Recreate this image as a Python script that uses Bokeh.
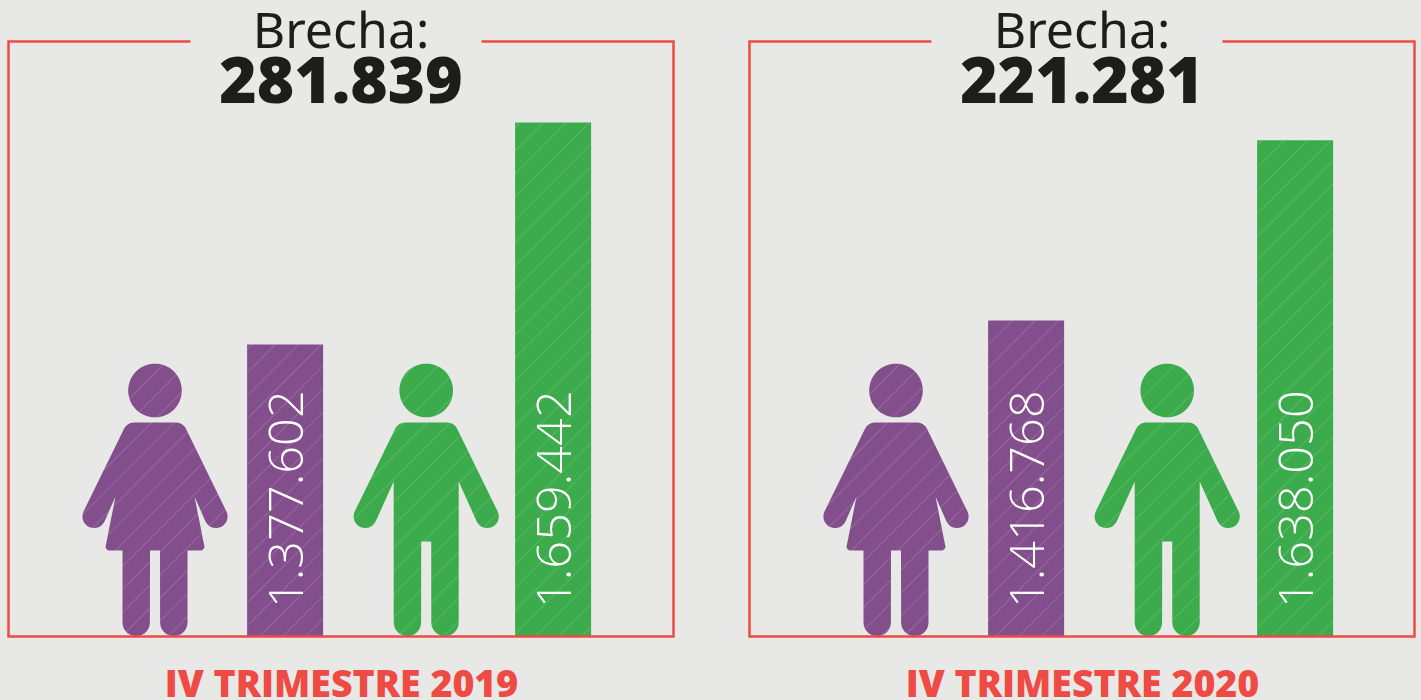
import math
from bokeh.plotting import figure
from bokeh.models import Range1d, ColumnDataSource
from bokeh.core.properties import value
from bokeh.embed import file_html
from bokeh.resources import INLINE

# ---- data ----
panels = ["IV TRIMESTRE 2019", "IV TRIMESTRE 2020"]
gaps = ["281.839", "221.281"]
women_labels = ["1.377.602", "1.416.768"]
men_labels = ["1.659.442", "1.638.050"]
# bar lengths as they are drawn (the 2020 women's bar is drawn a little shorter than its label)
women_drawn = [1377602, 1408070]
men_drawn = [1659442, 1637000]
brecha_word = "Brecha:"

BG = "#e8e8e6"
PURPLE = "#824e8c"
GREEN = "#3bab4b"
RED = "#ee4b45"
INK = "#1d1d1b"

# ---- layout in page pixels ----
W, H = 1421, 700
PANEL_DX = 741
BASE_Y = 636
PX_PER_UNIT = 0.0007877
V0 = 1377602 - 292 / PX_PER_UNIT
HATCH_STEP, HATCH_PHASE = 23, 619
BASELINE_FIX = 0.37  # the SVG text sits this many ems under the requested baseline

p = figure(width=W, height=H, output_backend="svg", toolbar_location=None,
           x_range=Range1d(0, W), y_range=Range1d(H, 0),
           min_border=0, outline_line_color=None, background_fill_color=BG,
           border_fill_color=BG)
p.axis.visible = False
p.grid.visible = False
p.extra_y_ranges = {"value": Range1d(V0 + (BASE_Y - H) / PX_PER_UNIT,
                                     V0 + BASE_Y / PX_PER_UNIT)}


def arc(cx, cy, r, a0, a1, n=14):
    return [(cx + r * math.cos(math.radians(a0 + (a1 - a0) * i / n)),
             cy + r * math.sin(math.radians(a0 + (a1 - a0) * i / n))) for i in range(n + 1)]


def arm(armpit):
    hx, hy, r = 61, 516, 11.6
    pts = [(0, 422), (21, 422)]
    pts += arc(21, 433, 11, -90, -25, 6)
    pts += arc(hx, hy, r, -25, 155)
    pts.append(armpit)
    return pts


def woman_half():
    pts = arm((39.5, 496))
    pts += [(49, 544)] + arc(45.5, 546, 4, 0, 90, 4)
    pts += [(32.5, 550), (32.5, 622)]
    pts += arc(18.8, 622, 13.7, 0, 180)
    pts += [(5, 550)]
    return pts


def man_half():
    pts = arm((32.5, 481))
    pts += [(32.5, 622)]
    pts += arc(18.8, 622, 13.7, 0, 180)
    pts += [(5, 541)]
    return pts


def hatch_segments(poly):
    """45-degree lines (x + y = const) clipped to a polygon."""
    sums = [a + b for a, b in poly]
    xs, ys = [], []
    k = math.ceil((min(sums) - HATCH_PHASE) / HATCH_STEP)
    while HATCH_PHASE + k * HATCH_STEP < max(sums):
        c = HATCH_PHASE + k * HATCH_STEP
        hits = []
        for (x0, y0), (x1, y1) in zip(poly, poly[1:] + poly[:1]):
            s0, s1 = x0 + y0 - c, x1 + y1 - c
            if (s0 < 0) != (s1 < 0):
                t = s0 / (s0 - s1)
                hits.append(x0 + t * (x1 - x0))
        hits.sort()
        for a, b in zip(hits[::2], hits[1::2]):
            xs.append([a, b])
            ys.append([c - a, c - b])
        k += 1
    return xs, ys


def draw_hatch(poly):
    xs, ys = hatch_segments(poly)
    p.multi_line(xs, ys, line_color="white", line_alpha=0.13, line_width=1.3)


def person(cx, half, color):
    xs = [cx + a for a, _ in half] + [cx - a for a, _ in reversed(half)]
    ys = [b for _, b in half] + [b for _, b in reversed(half)]
    p.patch(xs, ys, fill_color=color, line_color=None)
    draw_hatch(list(zip(xs, ys)))
    head = arc(cx, 390, 26.8, 0, 360, 60)[:-1]
    p.patch([a for a, _ in head], [b for _, b in head], fill_color=color, line_color=None)
    draw_hatch(head)


def heading(x, baseline, txt, font, size, color):
    p.text([x], [baseline - BASELINE_FIX * size], text=[txt], text_align="center",
           text_baseline="alphabetic", text_font=value(font),
           text_font_size=f"{size}px", text_color=color)


for i in range(2):
    dx = i * PANEL_DX
    # bars
    for cx, val, lab, col in ((284.6 + dx, women_drawn[i], women_labels[i], PURPLE),
                              (552.6 + dx + i, men_drawn[i], men_labels[i], GREEN)):
        src = ColumnDataSource(dict(x=[cx], top=[val], bottom=[V0]))
        p.vbar(x="x", top="top", bottom="bottom", width=76, source=src, y_range_name="value",
               fill_color=col, line_color=None)
        top_px = BASE_Y - (val - V0) * PX_PER_UNIT
        draw_hatch([(cx - 38, top_px), (cx + 38, top_px), (cx + 38, BASE_Y), (cx - 38, BASE_Y)])
        p.text([cx + 0.6], [607.5], text=[lab], angle=math.pi / 2, text_align="left",
               text_baseline="middle", text_font=value("Open Sans Light"),
               text_font_size="48.7px", text_color="white")
    # pictograms
    person(154.5 + dx, woman_half(), PURPLE)
    person(425.7 + dx, man_half(), GREEN)
    # frame
    fx0, fx1, top = 8 + dx, 673 + dx, 41
    p.line([190 + dx, fx0, fx0, fx1, fx1, 481 + dx], [top, top, BASE_Y, BASE_Y, top, top],
           line_color=RED, line_width=2.5, line_join="miter")
    # heading
    heading(340.5 + dx, 46.5, brecha_word, "Noto Sans", 50, INK)
    heading(340.5 + dx, 103, gaps[i], "Open Sans ExtraBold", 64, INK)
    heading(341 + dx, 696, panels[i], "Open Sans ExtraBold", 37.5, RED)

html = file_html(p, INLINE)
html = html.replace("<head>", "<head><style>html,body{background:%s;margin:0;overflow:hidden}</style>" % BG, 1)
open("out.html", "w").write(html)
